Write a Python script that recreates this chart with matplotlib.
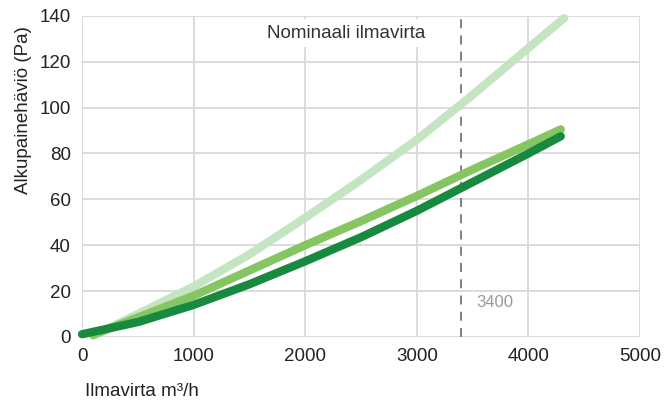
import numpy as np
import matplotlib
matplotlib.use("Agg")
import matplotlib.pyplot as plt

plt.rcParams['font.family'] = ['Liberation Sans', 'DejaVu Sans']

# airflow (m3/h) vs pressure drop (Pa)
x_light = [100, 500, 1000, 1500, 2000, 2500, 3000, 3500, 4000, 4320]
y_light = [0.5, 10, 22, 36, 52, 68.5, 86, 105.5, 126, 139]

x_mid = [100, 500, 1000, 1500, 2000, 2500, 3000, 3500, 4000, 4290]
y_mid = [1, 8.5, 18, 29, 40, 50.5, 61.5, 73, 84, 90.5]

x_dark = [0, 500, 1000, 1500, 2000, 2500, 3000, 3500, 4000, 4290]
y_dark = [1.2, 6.5, 14, 23, 33, 43.5, 55, 67.5, 80, 87.5]

nominal = 3400
x_ticks = [0, 1000, 2000, 3000, 4000, 5000]
y_ticks = [0, 20, 40, 60, 80, 100, 120, 140]

fig = plt.figure(figsize=(6.69, 4.07), dpi=100)
ax = fig.add_axes([0.1226, 0.172, 0.834, 0.789])

grid_c = '#d9d9d9'
for xv in x_ticks:
    ax.axvline(xv, color=grid_c, lw=1.3, zorder=0)
for yv in y_ticks:
    ax.axhline(yv, color=grid_c, lw=1.3, zorder=0)

for xs, ys, c, z in [(x_light, y_light, '#c4e4c2', 3),
                     (x_mid, y_mid, '#86c662', 4),
                     (x_dark, y_dark, '#188a40', 5)]:
    ax.plot(xs, ys, color=c, lw=6, solid_capstyle='round',
            solid_joinstyle='round', zorder=z, clip_on=False)

ax.axvline(nominal, color='#777777', lw=1.3, ls=(0, (5, 4)), zorder=2)

ax.text(2370, 132.5, 'Nominaali ilmavirta', fontsize=13.5, color='#333333',
        ha='center', va='center', zorder=6,
        bbox=dict(facecolor='white', edgecolor='none', pad=4))
ax.text(3530, 15, str(nominal), fontsize=12, color='#999999', ha='left', va='center', zorder=6)

ax.set_xlim(0, 5000)
ax.set_ylim(0, 140)
ax.set_xticks(x_ticks)
ax.set_yticks(y_ticks)
ax.tick_params(length=0, labelsize=13.5, colors='#222222', pad=8)
for sp in ax.spines.values():
    sp.set_visible(False)

ax.set_ylabel('Alkupainehäviö (Pa)', fontsize=13.5, color='#222222')
ax.yaxis.set_label_coords(-0.09, 0.707)
fig.text(85 / 669, 1 - 391 / 407, 'Ilmavirta m³/h', fontsize=13.5, color='#222222',
         ha='left', va='center')

fig.savefig('out.png', dpi=100)
